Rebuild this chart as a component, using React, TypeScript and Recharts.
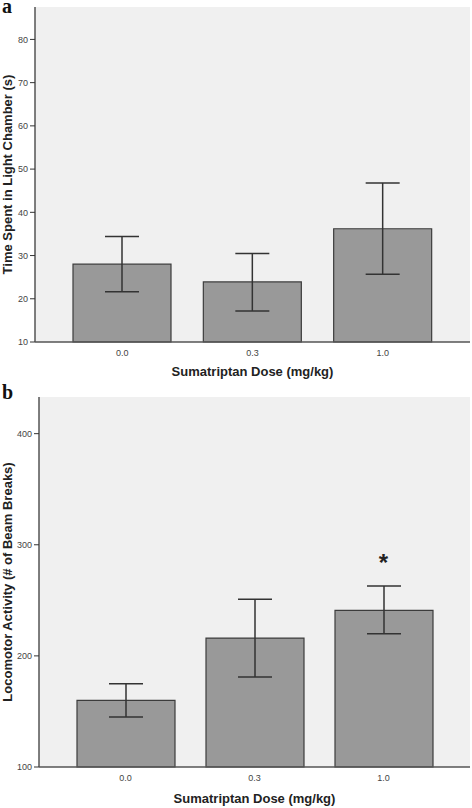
import React from "react";
import { BarChart, Bar, XAxis, YAxis, CartesianGrid, ErrorBar, ReferenceDot } from "recharts";

const DOSES = ["0.0", "0.3", "1.0"];

// a: time spent in light chamber (s), mean and CI bounds
const LIGHT_MEAN = [28.0, 23.9, 36.2];
const LIGHT_LOW = [21.6, 17.2, 25.7];
const LIGHT_HIGH = [34.4, 30.5, 46.8];
const LIGHT_TICKS = [10, 20, 30, 40, 50, 60, 70, 80];

// b: locomotor activity (# of beam breaks)
const LOCO_MEAN = [160, 216, 241];
const LOCO_LOW = [145, 181, 220];
const LOCO_HIGH = [175, 251, 263];
const LOCO_TICKS = [100, 200, 300, 400];
const LOCO_SIG = ["", "", "*"];

const FRAME = "#555";
const TICK_FONT = "'Liberation Sans Narrow', 'Liberation Sans', Arial, sans-serif";
const TITLE_FONT = "'Liberation Sans', Arial, sans-serif";

const yTitle = (text: string) => (props: any) => {
  const vb = props.viewBox;
  const cx = vb.x + 7.5;
  const cy = vb.y + vb.height / 2;
  return (
    <text x={cx} y={cy} transform={`rotate(-90 ${cx} ${cy})`} textAnchor="middle" dominantBaseline="central"
      style={{ fontFamily: TITLE_FONT, fontWeight: 700, fontSize: 13, fill: "#222" }}>
      {text}
    </text>
  );
};

interface PanelProps {
  letter: string;
  letterTop: number;
  mean: number[];
  low: number[];
  high: number[];
  ticks: number[];
  domain: [number, number];
  yLabel: string;
  yWidth: number;
  height: number;
  bottom: number;
  titleOffset: number;
  sig?: string[];
}

function Panel({ letter, letterTop, mean, low, high, ticks, domain, yLabel, yWidth, height, bottom, titleOffset, sig }: PanelProps) {
  const data = DOSES.map((d, i) => ({
    dose: d,
    value: mean[i],
    err: [mean[i] - low[i], high[i] - mean[i]],
  }));
  const tickStyle = { fontFamily: TICK_FONT, fontSize: 9, fill: "#444" };

  return (
    <div style={{ position: "relative", width: 472, height }}>
      <div style={{ position: "absolute", left: 2, top: letterTop, lineHeight: "12px",
        fontFamily: "'Liberation Serif', 'Times New Roman', serif", fontWeight: 700, fontSize: 20, color: "#111" }}>
        {letter}
      </div>
      <BarChart width={472} height={height} data={data} margin={{ top: 7, right: 2, left: 0, bottom }} barSize={98}>
        <CartesianGrid horizontal={false} vertical={false} fill="#f0f0f0" />
        <XAxis dataKey="dose" padding={{ left: 22, right: 22 }} height={40} tickLine={false}
          axisLine={{ stroke: FRAME, strokeWidth: 1.5 }} tick={tickStyle}
          label={{ value: "Sumatriptan Dose (mg/kg)", position: "insideBottom", offset: titleOffset,
            style: { fontFamily: TITLE_FONT, fontWeight: 700, fontSize: 13, fill: "#222" } }} />
        <XAxis xAxisId="top" dataKey="dose" orientation="top" height={0} padding={{ left: 22, right: 22 }}
          tick={false} tickLine={false} axisLine={{ stroke: FRAME, strokeWidth: 1.5 }} />
        <YAxis type="number" domain={domain} ticks={ticks} width={yWidth} tickSize={5} tickMargin={2}
          interval={0} axisLine={{ stroke: FRAME, strokeWidth: 1.5 }} tickLine={{ stroke: "#333" }} tick={tickStyle}
          label={{ content: yTitle(yLabel) }} />
        <YAxis yAxisId="right" orientation="right" width={0} tick={false} tickLine={false}
          axisLine={{ stroke: FRAME, strokeWidth: 1.5 }} />
        <Bar dataKey="value" fill="#999999" stroke="#3c3c3c" strokeWidth={1.2} isAnimationActive={false}>
          <ErrorBar dataKey="err" width={17} stroke="#333" strokeWidth={1.5} isAnimationActive={false} />
        </Bar>
        {sig && sig.map((s, i) => s ? (
          <ReferenceDot key={i} x={DOSES[i]} y={high[i]} r={0} stroke="none" fill="none"
            label={{ value: s, position: "top", offset: 15,
              style: { fontFamily: TITLE_FONT, fontWeight: 700, fontSize: 24, fill: "#222" } }} />
        ) : null)}
      </BarChart>
    </div>
  );
}

export default function App() {
  return (
    <div style={{ position: "absolute", left: 0, top: 0, width: 472, height: 808, background: "#fff" }}>
      <Panel letter="a" letterTop={0} mean={LIGHT_MEAN} low={LIGHT_LOW} high={LIGHT_HIGH} ticks={LIGHT_TICKS}
        domain={[10, 87.5]} yLabel="Time Spent in Light Chamber (s)" yWidth={35} height={390} bottom={8}
        titleOffset={6} />
      <Panel letter="b" letterTop={-4} mean={LOCO_MEAN} low={LOCO_LOW} high={LOCO_HIGH} ticks={LOCO_TICKS}
        domain={[100, 433]} yLabel="Locomotor Activity (# of Beam Breaks)" yWidth={39} height={418} bottom={1}
        titleOffset={4} sig={LOCO_SIG} />
    </div>
  );
}
